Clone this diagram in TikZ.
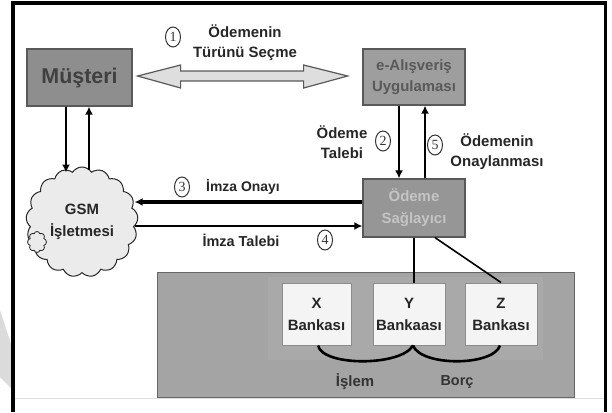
\documentclass[tikz,border=0pt]{standalone}
\usepackage{fontspec}
\setmainfont{Liberation Sans}
\newfontfamily\numfont{Liberation Serif}
\usetikzlibrary{arrows.meta,shapes.symbols,shapes.geometric,calc}
\definecolor{musfill}{HTML}{8E8E8E}
\definecolor{ealfill}{HTML}{9E9E9E}
\definecolor{odefill}{HTML}{969696}
\definecolor{panelfill}{HTML}{A4A4A4}
\definecolor{panelin}{HTML}{A9A9A9}
\definecolor{bankfill}{HTML}{F4F4F4}
\definecolor{cloudfill}{HTML}{EBEBEB}
\definecolor{fatfill}{HTML}{DEDEDE}
\definecolor{odetext}{HTML}{C4C4C4}
\begin{document}
\begin{tikzpicture}[x=1bp,y=-1bp,
  every node/.style={font=\bfseries\fontsize{14}{19}\selectfont, text=black!85, align=center},
  gbox/.style={draw=black!65, line width=1.2bp, inner sep=0pt},
  bankbox/.style={draw=black!45, line width=1bp, fill=bankfill, inner sep=0pt, minimum height=62bp, font=\bfseries\fontsize{15}{22}\selectfont},
  circnum/.style={ellipse, draw=black!80, line width=1bp, inner sep=0pt, minimum width=15bp, minimum height=20bp, font=\numfont\fontsize{14}{14}\selectfont, text=black!80},
  lbl/.style={font=\bfseries\fontsize{15}{20}\selectfont},
  arr/.style={line width=2.6bp, -{Latex[length=8bp,width=8bp]}},
  fat/.style={fill=fatfill, draw=black!65, line width=1.2bp, line join=miter},
  thinline/.style={line width=1.6bp}
]
\useasboundingbox (0,0) rectangle (612,412);
% faint artifact and frame
\fill[black!14] (0,310) -- (13,350) -- (13,390) -- (0,377) -- cycle;
\draw[black!12, line width=1bp] (13,398) -- (605,398);
\draw[line width=3.5bp] (13,412) -- (13,3) -- (605.5,3) -- (605.5,412);

% main boxes
\node[gbox, fill=musfill, minimum width=105bp, minimum height=57bp, font=\bfseries\fontsize{21.5}{24}\selectfont, text=black!75] (mus) at (79.5,77.5) {Müşteri};
\node[gbox, fill=ealfill, minimum width=102bp, minimum height=56bp, font=\bfseries\fontsize{15}{21}\selectfont, text=black!65] (eal) at (414,77) {e-Alışveriş\\Uygulaması};
\node[gbox, fill=odefill, minimum width=102bp, minimum height=58bp, font=\bfseries\fontsize{15}{22}\selectfont, text=odetext] (ode) at (414,208) {Ödeme\\Sağlayıcı};

% cloud
\node[cloud, cloud puffs=17, cloud puff arc=115, cloud ignores aspect, draw=black!85, line width=1bp, fill=cloudfill, minimum width=112bp, minimum height=110bp, inner sep=0pt, font=\bfseries\fontsize{15}{22}\selectfont] (gsm) at (82,222) {GSM\\İşletmesi};
\node[cloud, cloud puffs=8, cloud ignores aspect, draw=black!85, line width=0.8bp, fill=cloudfill, minimum width=19bp, minimum height=21bp, inner sep=0pt] (puff) at (37,242) {};

% bank panel
\node[draw=black!60, line width=1bp, fill=panelfill, minimum width=417bp, minimum height=125bp, inner sep=0pt] (panel) at (365.5,334.5) {};
\fill[panelin] (268,277) rectangle (543,360);
\node[bankbox, minimum width=69bp] (bX) at (316.5,314) {X\\Bankası};
\node[bankbox, minimum width=72bp] (bY) at (409,314) {Y\\Bankaası};
\node[bankbox, minimum width=72bp] (bZ) at (501,314) {Z\\Bankası};

% fat double arrow between Müşteri and e-Alışveriş
\coordinate (dl) at ($(mus.east)+(5,-1.5)$);
\draw[fat] (dl) -- ++(43,-11) -- ++(0,6) -- ++(123,0) -- ++(0,-6) -- ++(44,11) -- ++(-44,12) -- ++(0,-7) -- ++(-123,0) -- ++(0,7) -- cycle;

% Müşteri <-> GSM
\coordinate (m1) at ($(mus.south)+(-13.5,0)$);
\coordinate (m2) at ($(mus.south)+(9.5,0)$);
\draw[arr] (m1) -- ($(m1 |- gsm.north)+(0,6)$);
\draw[arr] ($(m2 |- gsm.north)+(0,3)$) -- (m2);

% e-Alışveriş <-> Ödeme
\coordinate (e1) at ($(eal.south)+(-15,0)$);
\coordinate (e2) at ($(eal.south)+(11,0)$);
\draw[arr] (e1) -- (e1 |- ode.north);
\draw[arr] (e2 |- ode.north) -- (e2);

% Ödeme <-> GSM
\coordinate (o1) at ($(ode.west)+(0,-6)$);
\coordinate (o2) at ($(ode.west)+(0,18)$);
\draw[arr, line width=3.6bp] (o1) -- ($(o1 -| gsm.east)+(-3,0)$);
\draw[arr, line width=2.8bp] ($(o2 -| gsm.east)+(-3,0)$) -- (o2);

% Ödeme to banks
\draw[thinline] (ode.south) -- (ode.south |- bY.north);
\draw[thinline] ($(ode.south)+(21,0)$) -- (bZ.north);

% bank curves
\draw[line width=2.6bp] ($(bX.south)+(1.5,0)$) .. controls ($(bX.south)+(6,21)$) and ($(bY.south)+(-8,21)$) .. ($(bY.south)+(4,0)$);
\draw[line width=2.6bp] ($(bY.south)+(4,0)$) .. controls ($(bY.south)+(12,21)$) and ($(bZ.south)+(-8,21)$) .. ($(bZ.south)+(-1,0)$);

% labels
\node[lbl] (t1) at (245,43) {Ödemenin\\Türünü Seçme};
\node[circnum] (c1) at (173,37) {1};
\node[lbl] (t2) at (342,142) {Ödeme\\Talebi};
\node[circnum] (c2) at (383,141) {2};
\node[lbl] (t5) at (497,152) {Ödemenin\\Onaylanması};
\node[circnum] (c5) at (435,145) {5};
\node[lbl, font=\bfseries\fontsize{14}{18}\selectfont] (t3) at (243,187) {İmza Onayı};
\node[circnum] (c3) at (182,187) {3};
\node[lbl, font=\bfseries\fontsize{14.5}{18}\selectfont] (t4) at (241,240) {İmza Talebi};
\node[circnum] (c4) at (325,240) {4};
\node[lbl, font=\bfseries\fontsize{15}{18}\selectfont, text=black!80] (ti) at (355,382) {İşlem};
\node[lbl, font=\bfseries\fontsize{14.5}{18}\selectfont, text=black!80] (tb) at (457,382) {Borç};
\end{tikzpicture}
\end{document}
